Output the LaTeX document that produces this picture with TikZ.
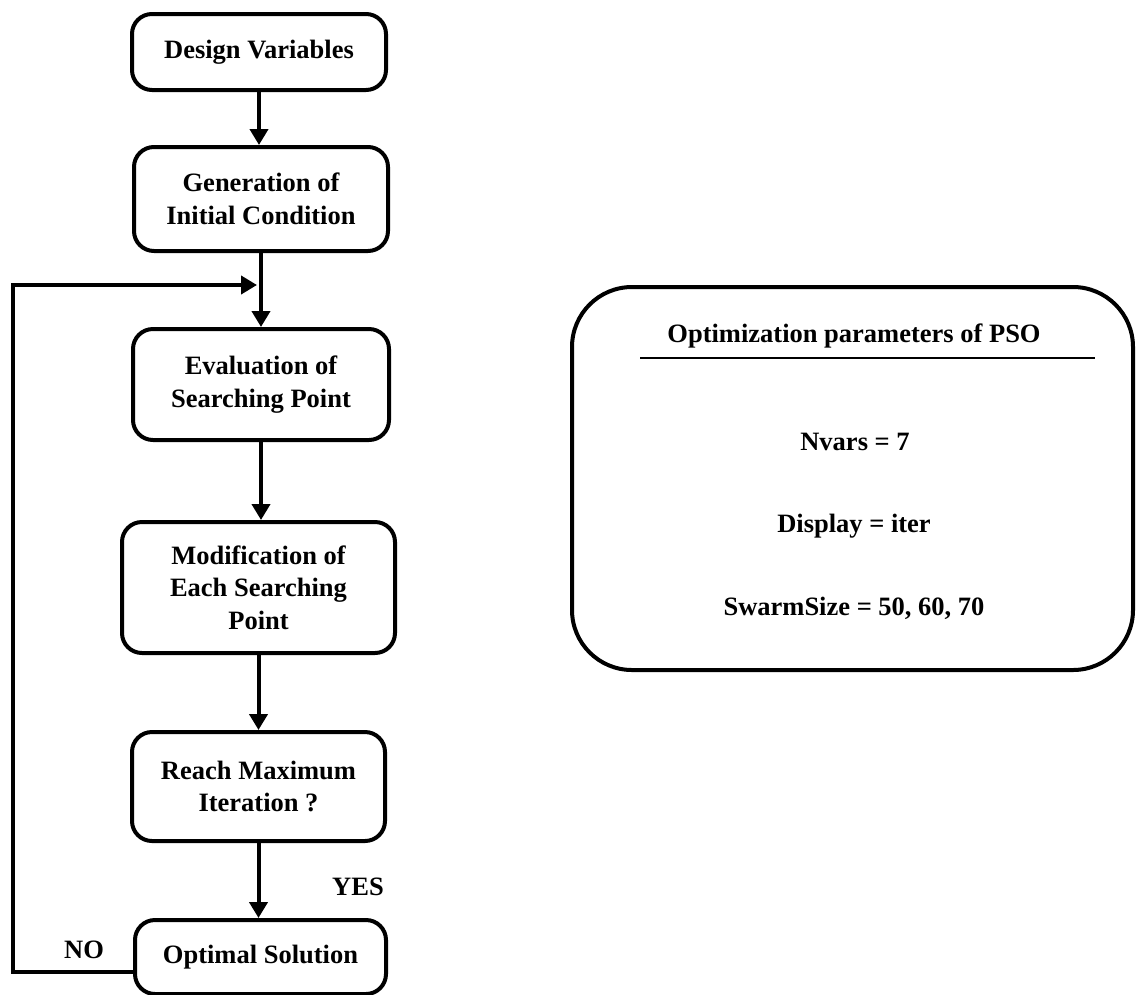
\documentclass[tikz,border=0pt]{standalone}
\usepackage{fontspec}
\setmainfont{Liberation Serif}
\usetikzlibrary{arrows.meta}

\tikzset{
  txt/.style={font=\bfseries\fontsize{26.5}{32.5}\selectfont},
  stepbox/.style={txt, draw, line width=4pt, rounded corners=20pt,
                  align=center, inner sep=0pt},
  flow/.style={line width=4pt, -{Triangle[length=16pt,width=18pt]}},
  tag/.style={txt, inner sep=0pt, anchor=base},
  panel/.style={draw, line width=4pt, rounded corners=60pt, inner sep=0pt},
}

\begin{document}
\begin{tikzpicture}[x=1pt,y=-1pt]
\useasboundingbox (0,0) rectangle (1137,994);

% flow chart steps
\node[stepbox, minimum width=254pt, minimum height=76pt]  (b1) at (259,52)    {Design Variables};
\node[stepbox, minimum width=254pt, minimum height=104pt] (b2) at (261,199)   {Generation of\\Initial Condition};
\node[stepbox, minimum width=256pt, minimum height=111pt] (b3) at (261,384.5) {Evaluation of\\Searching Point};
\node[stepbox, minimum width=273pt, minimum height=131pt] (b4) at (258.5,587.5) {Modification of\\Each Searching\\Point};
\node[stepbox, minimum width=253pt, minimum height=109pt] (b5) at (258.5,786.5) {Reach Maximum\\Iteration ?};
\node[stepbox, minimum width=251pt, minimum height=74pt]  (b6) at (260.5,957) {Optimal Solution};

% connectors between steps
\draw[flow] (b1.south) -- (b1.south |- b2.north);
\draw[flow] (b2.south) -- (b2.south |- b3.north);
\draw[flow] (b3.south) -- (b3.south |- b4.north);
\draw[flow] (b4.south) -- (b4.south |- b5.north);
\draw[flow] (b5.south) -- (b5.south |- b6.north);

% feedback loop back to the evaluation step
\coordinate (corner)  at (13,285);
\coordinate (join)    at (257,285);
\coordinate (nostart) at (b6.west |- 0,972);
\draw[flow] (nostart) -| (corner) -- (join);

\node[tag] (yes) at (358,895) {YES};
\node[tag] (no)  at (84,958)  {NO};

% PSO parameter panel
\node[panel, minimum width=561pt, minimum height=383pt] (pso) at (852.5,478.5) {};
\node[tag] (hdr)   at (854,342) {Optimization parameters of PSO};
\coordinate (ruleL) at (640,358);
\coordinate (ruleR) at (1095,358);
\draw[line width=2pt] (ruleL) -- (ruleR);
\node[tag] (nvars) at (855,450) {Nvars = 7};
\node[tag] (disp)  at (854,532) {Display = iter};
\node[tag] (swarm) at (854,615) {SwarmSize = 50, 60, 70};
\end{tikzpicture}
\end{document}
